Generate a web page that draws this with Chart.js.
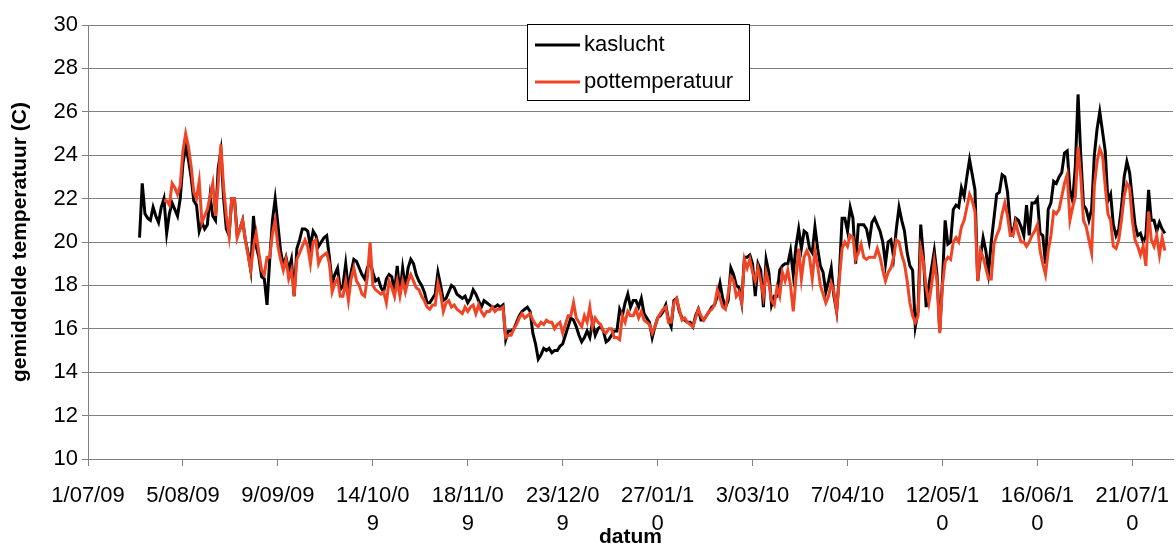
<!DOCTYPE html>
<html>
<head>
<meta charset="utf-8">
<script src="https://cdn.jsdelivr.net/npm/chart.js@4/dist/chart.umd.min.js"></script>
<style>
  body { margin: 0; background: #fff; }
</style>
</head>
<body>
<canvas id="temp-chart" width="1176" height="548"></canvas>
<script>
// days counted from 1/07/09 (excel serial 40000)
const tickDays = [0, 35, 70, 105, 140, 175, 210, 245, 280, 315, 350, 385];
const tickLabels = ['1/07/09', '5/08/09', '9/09/09', ['14/10/0', '9'], ['18/11/0', '9'], ['23/12/0', '9'],
  ['27/01/1', '0'], '3/03/10', '7/04/10', ['12/05/1', '0'], ['16/06/1', '0'], ['21/07/1', '0']];

const kasluchtStart = 19;
const kaslucht = [
  20.2, 22.7, 21.3, 21.1, 21.0, 21.6, 21.2, 20.9, 21.6, 22.0, 20.4, 21.3, 21.8, 21.5, 21.2, 22.0, 23.6, 24.4, 23.8, 23.0,
  21.9, 21.7, 20.5, 20.9, 20.6, 20.8, 22.1, 21.2, 21.0, 23.4, 24.2, 22.0, 20.6, 20.3, 22.0,
  22.0, 20.3, 20.6, 21.0, 20.1, 19.5, 18.7, 21.2, 19.8, 19.3, 18.4, 18.3, 17.1, 19.2, 21.0, 22.0, 20.8, 19.6, 18.9, 19.3,
  18.7, 19.2, 17.5, 19.7, 20.1, 20.6, 20.6, 20.5, 19.8, 20.5, 20.3, 19.8, 20.0, 20.2, 20.3, 19.3, 18.1,
  18.5, 18.8, 17.8, 18.0, 19.0, 17.8, 18.6, 19.2, 19.1, 18.8, 18.5, 18.3, 18.8, 19.1, 18.6, 18.2, 18.3, 17.9, 17.7, 18.3,
  18.5, 18.4, 17.7, 18.9, 17.6, 18.8, 17.9, 18.8, 19.2, 19.0, 18.5, 18.2, 18.0, 17.7, 17.2, 17.2, 17.4,
  17.6, 18.6, 18.0, 17.3, 17.4, 17.7, 18.0, 17.9, 17.6, 17.5, 17.4, 17.5, 17.2, 17.4, 17.8, 17.6, 17.3, 17.0, 17.3, 17.2,
  17.1, 17.0, 17.0, 17.1, 17.0, 17.1, 15.5, 15.9, 15.9, 16.0, 16.3, 16.6, 16.8, 16.9, 17.0, 16.8, 15.8,
  15.3, 14.6, 14.8, 15.1, 15.0, 15.1, 14.9, 15.0, 15.0, 15.2, 15.3, 15.7, 16.1, 16.5, 16.4, 16.1, 15.7, 15.4, 15.6, 15.9,
  15.6, 16.3, 15.7, 16.0, 16.1, 15.9, 15.4, 15.5, 15.7, 15.9, 15.9, 16.9, 16.6, 17.2, 17.6, 17.0,
  17.3, 17.3, 17.0, 17.4, 16.7, 16.5, 16.3, 15.6, 16.1, 16.5, 16.6, 16.8, 17.1, 16.4, 16.1, 17.3, 17.4, 16.8, 16.5, 16.4,
  16.3, 16.3, 16.1, 16.6, 16.9, 16.4, 16.4, 16.6, 16.8, 17.0, 17.1, 17.5, 18.1, 17.4, 17.0, 17.3, 18.8,
  18.5, 18.0, 17.9, 17.2, 19.3, 19.3, 19.4, 19.0, 17.5, 19.0, 18.7, 17.0, 19.2, 18.6, 17.1, 17.5, 17.5, 18.7, 18.9, 19.0,
  19.0, 19.6, 18.5, 19.8, 20.6, 19.7, 20.5, 20.4, 19.7, 19.5, 20.7, 19.7, 18.9, 18.6, 17.7, 18.2, 18.8,
  17.5, 16.8, 18.5, 21.1, 21.1, 20.5, 21.6, 21.1, 19.0, 20.8, 20.8, 20.8, 20.6, 20.0, 20.9, 21.1, 20.8, 20.5, 20.0, 19.0,
  20.0, 20.1, 19.3, 20.6, 21.6, 21.0, 20.5, 19.5, 18.9, 18.7, 16.1, 16.8, 20.8, 19.3, 17.0, 18.0, 18.8,
  19.6, 18.5, 15.9, 18.2, 21.0, 19.9, 20.0, 21.5, 21.7, 21.6, 22.5, 22.1, 23.0, 23.8, 23.1, 22.4, 18.2, 19.3, 20.2, 19.6,
  18.6, 20.0, 21.1, 22.2, 22.3, 23.1, 23.0, 22.3, 20.7, 20.4, 21.1, 21.0, 20.7, 20.3, 21.7, 20.3, 21.8,
  21.8, 22.0, 20.4, 20.3, 19.0, 21.5, 21.8, 22.8, 22.7, 23.0, 23.2, 24.1, 24.2, 22.4, 21.9, 23.5, 26.8, 24.0, 21.7, 21.5,
  21.0, 21.5, 24.0, 25.2, 26.0, 25.1, 24.2, 21.9, 22.2, 20.8, 20.3, 20.6, 21.6, 23.0, 23.7, 23.2, 22.0, 20.8, 20.3, 20.4,
  20.0, 20.3, 22.4, 21.0, 21.0, 20.5, 20.9, 20.6, 20.4
];

const potStart = 28;
const pottemperatuur = [
  21.9, 21.9, 21.7, 22.7, 22.5, 22.2, 22.6, 24.2, 25.0, 24.4, 23.5, 22.3, 22.0, 22.8, 20.9, 21.2, 21.5, 22.1, 22.7, 21.2,
  22.7, 24.5, 22.5, 21.2, 20.3, 22.0,
  22.0, 20.2, 20.6, 21.0, 20.1, 19.4, 18.7, 19.8, 20.4, 19.5, 18.7, 18.5, 19.3, 19.3, 20.4, 21.0, 19.8, 19.2, 18.7, 19.2,
  18.3, 18.7, 17.5, 19.2, 19.5, 19.8, 20.1, 19.8, 19.0, 20.0, 20.1, 19.0, 19.3, 19.4, 19.5, 19.0, 17.7,
  18.1, 18.3, 17.5, 17.5, 18.2, 17.3, 18.3, 18.8, 18.2, 18.0, 17.6, 17.5, 18.4, 20.0, 18.0, 17.8, 17.7, 17.6, 17.7, 17.2,
  18.2, 17.9, 17.5, 18.2, 17.5, 18.2, 17.7, 18.2, 18.5, 18.2, 17.9, 17.8, 17.5, 17.3, 17.0, 16.9, 17.1,
  17.1, 18.1, 17.6, 16.8, 17.2, 17.3, 17.0, 17.1, 16.9, 16.8, 16.7, 17.0, 16.8, 17.0, 17.1, 16.7, 17.1, 16.8, 16.6, 16.8,
  16.8, 17.0, 16.8, 16.9, 16.9, 17.0, 15.6, 15.7, 15.7, 16.0, 16.2, 16.5, 16.7, 16.5, 16.6, 16.7, 16.4,
  16.2, 16.1, 16.3, 16.2, 16.4, 16.3, 16.3, 16.0, 16.2, 16.3, 15.8, 16.2, 16.6, 16.6, 17.2, 16.5, 16.3, 16.1, 16.6, 16.3,
  17.0, 16.1, 16.5, 16.3, 16.2, 15.9, 15.8, 16.0, 16.0, 15.6, 15.6, 15.5, 16.6, 16.3, 16.8, 16.6,
  16.6, 16.9, 16.5, 16.8, 16.4, 16.3, 16.2, 15.8, 16.1, 16.5, 16.7, 16.9, 17.0, 16.3, 16.3, 17.2, 17.4, 16.9, 16.4, 16.5,
  16.3, 16.2, 16.1, 16.5, 16.9, 16.6, 16.4, 16.6, 16.8, 16.9, 17.1, 17.8, 17.4, 17.0, 16.9, 17.6, 18.4,
  18.2, 17.5, 17.7, 17.2, 19.2, 18.8, 19.2, 18.6, 18.2, 18.8, 18.2, 17.5, 18.6, 18.1, 17.3, 17.1, 17.9, 17.5, 18.6, 18.2,
  18.7, 18.0, 16.8, 18.3, 19.7, 18.3, 19.3, 19.6, 19.3, 18.3, 19.6, 18.9, 18.0, 17.6, 17.2, 17.5, 18.1,
  17.7, 16.8, 18.3, 19.7, 20.0, 19.8, 20.3, 20.2, 19.2, 19.5, 19.9, 19.3, 19.2, 19.3, 19.3, 19.3, 19.7, 19.3, 18.7, 18.2,
  18.6, 18.8, 19.3, 20.1, 20.0, 19.4, 19.0, 18.2, 17.2, 16.6, 16.3, 16.6, 19.7, 19.1, 17.9, 17.2, 18.0,
  19.1, 18.2, 15.8, 18.0, 19.1, 19.3, 19.2, 20.0, 20.2, 20.0, 20.7, 21.0, 21.6, 22.2, 21.9, 21.4, 18.2, 19.6, 19.3, 18.8,
  18.3, 18.3, 19.9, 20.3, 20.6, 21.3, 21.8, 21.2, 20.3, 20.3, 20.9, 20.4, 20.0, 20.0, 19.8, 20.0, 20.3,
  20.5, 20.8, 19.6, 19.0, 18.5, 19.6, 20.3, 21.4, 21.3, 21.5, 22.1, 22.7, 23.1, 21.0, 21.6, 22.1, 24.4, 23.0, 21.0, 20.7,
  20.1, 19.5, 22.6, 23.7, 24.3, 24.0, 22.6, 21.3, 21.0, 19.8, 19.7, 20.1, 21.0, 22.1, 22.7, 22.5, 21.0, 20.1, 19.8, 19.4,
  19.8, 18.9, 21.4, 20.1, 19.8, 20.3, 19.4, 20.2, 19.6
];

const toPoints = (start, values) => values.map((v, i) => ({ x: start + i, y: v }));

Chart.defaults.font.family = '"Liberation Sans", Arial, sans-serif';
Chart.defaults.color = '#000';

// legend box like the excel one, drawn inside the plot
const boxLegend = {
  id: 'boxLegend',
  afterDraw(chart) {
    const ctx = chart.ctx;
    const x = 527, y = 24, w = 222, h = 76;
    ctx.save();
    ctx.fillStyle = '#fff';
    ctx.fillRect(x, y, w, h);
    ctx.strokeStyle = '#000';
    ctx.lineWidth = 1;
    ctx.strokeRect(x + 0.5, y + 0.5, w, h);
    ctx.font = '22px "Liberation Sans", Arial, sans-serif';
    ctx.textBaseline = 'middle';
    chart.data.datasets.forEach((ds, i) => {
      const ly = y + 21 + i * 37;
      ctx.strokeStyle = ds.borderColor;
      ctx.lineWidth = 3;
      ctx.beginPath();
      ctx.moveTo(x + 8, ly);
      ctx.lineTo(x + 53, ly);
      ctx.stroke();
      ctx.fillStyle = '#000';
      ctx.fillText(ds.label, x + 57, ly);
    });
    ctx.restore();
  }
};

new Chart(document.getElementById('temp-chart'), {
  type: 'line',
  data: {
    datasets: [
      {
        label: 'kaslucht',
        data: toPoints(kasluchtStart, kaslucht),
        borderColor: '#000000',
        borderWidth: 3,
        pointRadius: 0,
        tension: 0,
        order: 2
      },
      {
        label: 'pottemperatuur',
        data: toPoints(potStart, pottemperatuur),
        borderColor: 'rgb(240,68,36)',
        borderWidth: 3,
        pointRadius: 0,
        tension: 0,
        order: 1
      }
    ]
  },
  options: {
    responsive: false,
    animation: false,
    devicePixelRatio: 1,
    layout: { padding: { top: 25, right: 3, left: 0, bottom: 0 } },
    plugins: {
      legend: { display: false },
      tooltip: { enabled: false }
    },
    scales: {
      x: {
        type: 'linear',
        min: 0,
        max: 400,
        afterBuildTicks: (axis) => { axis.ticks = tickDays.map(v => ({ value: v })); },
        afterFit: (axis) => {
          axis.height = 89;
          // let the last label hang over the edge like excel does
          axis.paddingLeft = 0;
          axis.paddingRight = 0;
        },
        grid: { drawOnChartArea: false, drawTicks: true, tickLength: 7, color: '#808080' },
        border: { color: '#808080' },
        ticks: {
          autoSkip: false,
          maxRotation: 0,
          minRotation: 0,
          padding: 16,
          font: { size: 22, lineHeight: 1.27 },
          callback: (value) => tickLabels[tickDays.indexOf(value)]
        },
        title: {
          display: true,
          text: 'datum',
          font: { size: 21, weight: 'bold', lineHeight: 1 },
          padding: { top: 0, bottom: 0 }
        }
      },
      y: {
        min: 10,
        max: 30,
        afterFit: (axis) => { axis.width = 88; },
        grid: { color: '#808080', tickLength: 6 },
        border: { color: '#808080' },
        ticks: { stepSize: 2, padding: 4, font: { size: 22 } },
        title: {
          display: true,
          text: 'gemiddelde temperatuur (C)',
          font: { size: 21, weight: 'bold' },
          padding: { top: 8, bottom: 0 }
        }
      }
    }
  },
  plugins: [boxLegend]
});
</script>
</body>
</html>
